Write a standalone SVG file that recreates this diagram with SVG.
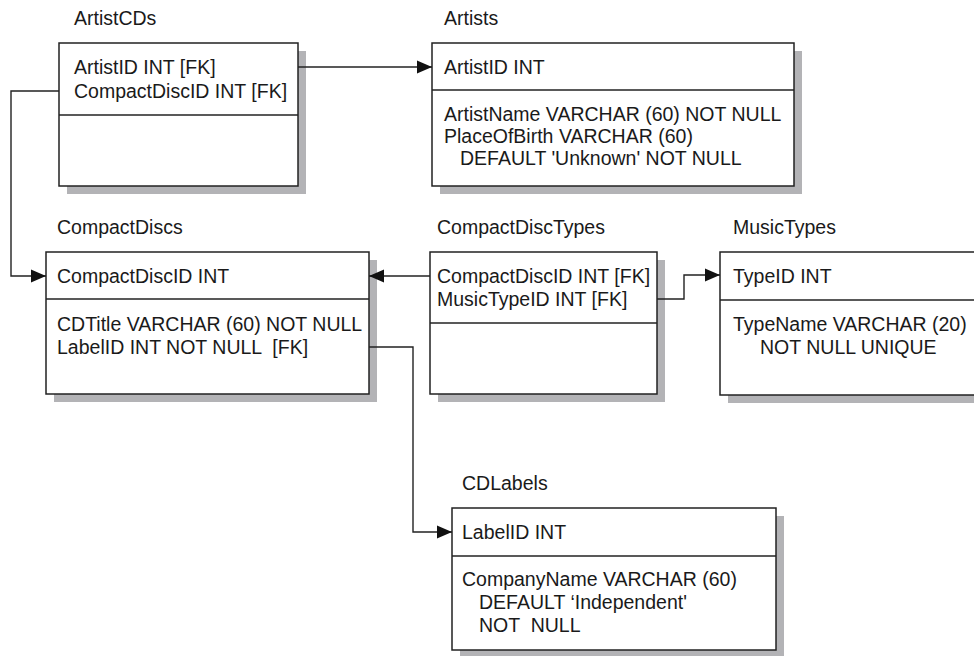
<svg xmlns="http://www.w3.org/2000/svg" width="974" height="656" viewBox="0 0 974 656">
<style>
text{font-family:"Liberation Sans",Arial,sans-serif;font-size:19.5px;fill:#1a1a1a;white-space:pre}
.box{fill:#fff;stroke:#222;stroke-width:1.5}
.sh{fill:#b3b3b6}
.div{stroke:#222;stroke-width:1.5}
.con{fill:none;stroke:#222;stroke-width:1.4}
</style>
<defs>
<marker id="ah" markerUnits="userSpaceOnUse" markerWidth="16" markerHeight="14" refX="15" refY="7" orient="auto">
<path d="M0,0.5 L15,7 L0,13.5 Z" fill="#111"/>
</marker>
</defs>
<rect width="974" height="656" fill="#fff"/>

<g id="ArtistCDs">
<text x="74" y="25">ArtistCDs</text>
<rect class="sh" x="67" y="51" width="239" height="143"/>
<rect class="box" x="59" y="43" width="239" height="143"/>
<line class="div" x1="59" y1="115" x2="298" y2="115"/>
<text x="74" y="74">ArtistID INT [FK]</text>
<text x="74" y="98">CompactDiscID INT [FK]</text>
</g>

<g id="Artists">
<text x="444" y="25">Artists</text>
<rect class="sh" x="440" y="51" width="362" height="143"/>
<rect class="box" x="432" y="43" width="362" height="143"/>
<line class="div" x1="432" y1="90" x2="794" y2="90"/>
<text x="444" y="74">ArtistID INT</text>
<text x="444" y="121">ArtistName VARCHAR (60) NOT NULL</text>
<text x="444" y="143">PlaceOfBirth VARCHAR (60)</text>
<text x="460" y="165">DEFAULT 'Unknown' NOT NULL</text>
</g>

<g id="CompactDiscs">
<text x="57" y="234">CompactDiscs</text>
<rect class="sh" x="54" y="260" width="323" height="142"/>
<rect class="box" x="46" y="252" width="323" height="142"/>
<line class="div" x1="46" y1="299" x2="369" y2="299"/>
<text x="57" y="283">CompactDiscID INT</text>
<text x="57" y="331">CDTitle VARCHAR (60) NOT NULL</text>
<text x="57" y="354" xml:space="preserve">LabelID INT NOT NULL  [FK]</text>
</g>

<g id="CompactDiscTypes">
<text x="437" y="234">CompactDiscTypes</text>
<rect class="sh" x="438" y="260" width="227" height="142"/>
<rect class="box" x="430" y="252" width="227" height="142"/>
<line class="div" x1="430" y1="323" x2="657" y2="323"/>
<text x="437" y="283">CompactDiscID INT [FK]</text>
<text x="437" y="306">MusicTypeID INT [FK]</text>
</g>

<g id="MusicTypes">
<text x="733" y="234">MusicTypes</text>
<rect class="sh" x="728" y="260" width="270" height="143"/>
<rect class="box" x="720" y="252" width="270" height="143"/>
<line class="div" x1="720" y1="300" x2="990" y2="300"/>
<text x="733" y="283">TypeID INT</text>
<text x="733" y="331">TypeName VARCHAR (20)</text>
<text x="760" y="354">NOT NULL UNIQUE</text>
</g>

<g id="CDLabels">
<text x="462" y="490">CDLabels</text>
<rect class="sh" x="460" y="516" width="324" height="142"/>
<rect class="box" x="452" y="508" width="324" height="142"/>
<line class="div" x1="452" y1="556" x2="776" y2="556"/>
<text x="462" y="539">LabelID INT</text>
<text x="462" y="586">CompanyName VARCHAR (60)</text>
<text x="479" y="609">DEFAULT ‘Independent'</text>
<text x="479" y="632" xml:space="preserve">NOT  NULL</text>
</g>

<g id="connectors">
<path class="con" d="M298,67 H432" marker-end="url(#ah)"/>
<path class="con" d="M59,91 H11 V276 H46" marker-end="url(#ah)"/>
<path class="con" d="M430,276 H369" marker-end="url(#ah)"/>
<path class="con" d="M657,299 H684 V275 H720" marker-end="url(#ah)"/>
<path class="con" d="M369,347 H413 V532 H452" marker-end="url(#ah)"/>
</g>
</svg>
